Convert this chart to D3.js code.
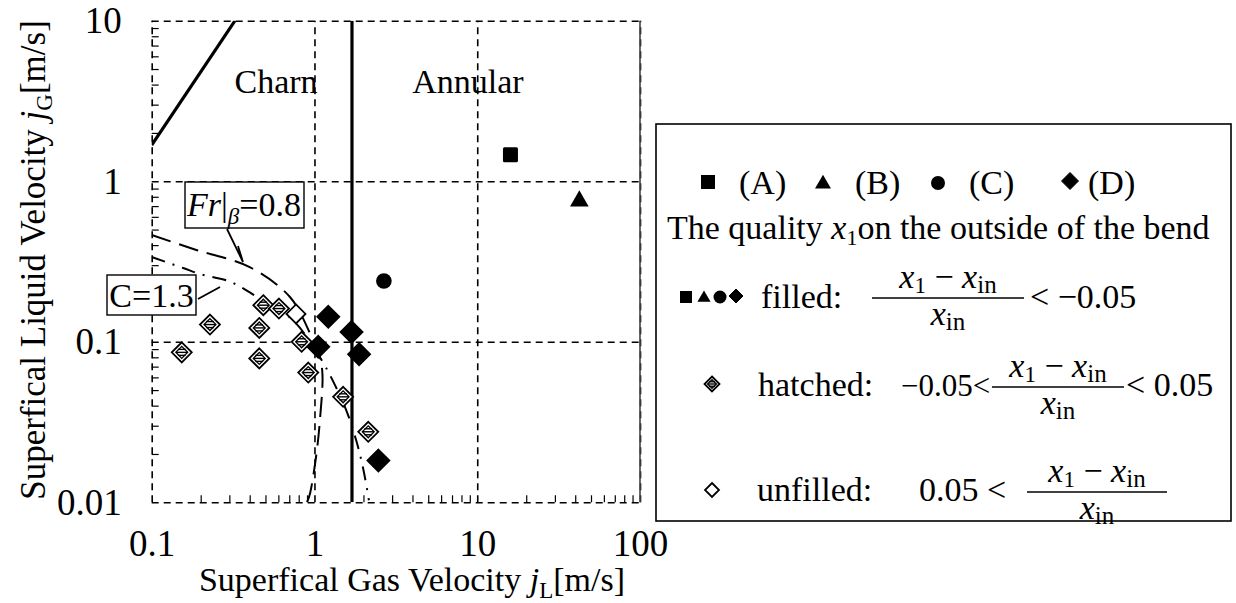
<!DOCTYPE html>
<html><head><meta charset="utf-8">
<script src="https://cdn.jsdelivr.net/npm/d3@7"></script>
<style>
body{margin:0;background:#fff}
svg{display:block}
text{font-family:"Liberation Serif","Times New Roman",serif;fill:#000}
</style>
</head><body>
<svg id="c" width="1236" height="603"></svg>
<script>
// ---------- data ----------
const xTickValues = [0.1, 1, 10, 100];
const xTickLabels = ["0.1", "1", "10", "100"];
const yTickValues = [0.01, 0.1, 1, 10];
const yTickLabels = ["0.01", "0.1", "1", "10"];

// hatched diamonds (-0.05 < dx < 0.05)
const hatchedX = [0.153, 0.228, 0.458, 0.458, 0.485, 0.605, 0.834, 0.916, 1.50, 2.14];
const hatchedY = [0.0859, 0.128, 0.122, 0.0788, 0.169, 0.161, 0.100, 0.0643, 0.0454, 0.0275];
// unfilled diamonds (0.05 < dx)
const unfilledX = [0.770];
const unfilledY = [0.149];
// filled diamonds (D)
const filledDX = [1.216, 1.69, 1.055, 1.88, 2.47];
const filledDY = [0.143, 0.115, 0.093, 0.0837, 0.0182];
// (A) square, (B) triangle, (C) circle
const seriesAX = [16.0], seriesAY = [1.46];
const seriesBX = [42.4], seriesBY = [0.753];
const seriesCX = [2.67], seriesCY = [0.239];

// transition curves
const frX = [0.1, 0.19, 0.40, 0.707, 0.938, 1.08, 1.12, 1.08, 1.03, 0.94, 0.90];
const frY = [0.462, 0.372, 0.292, 0.190, 0.113, 0.080, 0.062, 0.0325, 0.0203, 0.0114, 0.0100];
const cX = [0.1, 0.156, 0.198, 0.303, 0.444, 0.738, 1.08, 1.337, 1.59, 1.815, 2.0, 2.16];
const cY = [0.337, 0.288, 0.264, 0.237, 0.190, 0.136, 0.080, 0.0537, 0.0361, 0.0238, 0.0159, 0.0103];
const churnX = [0.1, 0.325], churnY = [1.68, 10];
const annularX = [1.7, 1.7], annularY = [0.01, 10];

// ---------- drawing ----------
const svg = d3.select("#c");
svg.append("rect").attr("width", 1236).attr("height", 603).attr("fill", "#fff");
const L = 151.7, R = 640, T = 20.7, B = 502.3;
const x = d3.scaleLog().domain([0.1, 100]).range([L, R]);
const y = d3.scaleLog().domain([0.01, 10]).range([B, T]);
const FONT = 34, TICKFONT = 37;

svg.append("clipPath").attr("id", "clip").append("rect")
  .attr("x", L).attr("y", T).attr("width", R - L).attr("height", B - T);

// minor ticks
const minorX = [], minorY = [];
[0.1, 1, 10].forEach(d => { for (let k = 2; k <= 9; k++) minorX.push(d * k); });
[0.01, 0.1, 1].forEach(d => { for (let k = 2; k <= 9; k++) minorY.push(d * k); });

const gMinX = svg.append("g").attr("transform", `translate(0,${B})`)
  .call(d3.axisBottom(x).tickValues(minorX).tickSize(-7).tickFormat(""));
const gMinY = svg.append("g").attr("transform", `translate(${L},0)`)
  .call(d3.axisLeft(y).tickValues(minorY).tickSize(-7).tickFormat(""));
[gMinX, gMinY].forEach(g => { g.select(".domain").remove(); g.selectAll("line").attr("stroke", "#000").attr("stroke-width", 1.2); });

// dashed grid incl. frame
const gGX = svg.append("g").attr("transform", `translate(0,${B})`)
  .call(d3.axisBottom(x).tickValues(xTickValues).tickSize(-(B - T)).tickFormat(""));
const gGY = svg.append("g").attr("transform", `translate(${L},0)`)
  .call(d3.axisLeft(y).tickValues(yTickValues).tickSize(-(R - L)).tickFormat(""));
[gGX, gGY].forEach(g => { g.select(".domain").remove(); g.selectAll("line").attr("stroke", "#000").attr("stroke-width", 1.6).attr("stroke-dasharray", "7,5"); });
svg.append("line").attr("x1", R).attr("x2", R).attr("y1", T).attr("y2", B).attr("stroke", "#444").attr("stroke-width", 1.6);

// tick labels
const gLX = svg.append("g").attr("transform", `translate(0,${B})`)
  .call(d3.axisBottom(x).tickValues(xTickValues).tickSize(0).tickPadding(27).tickFormat((d, i) => xTickLabels[i]));
const gLY = svg.append("g").attr("transform", `translate(${L},0)`)
  .call(d3.axisLeft(y).tickValues(yTickValues).tickSize(0).tickPadding(30).tickFormat((d, i) => yTickLabels[i]));
[gLX, gLY].forEach(g => { g.select(".domain").remove(); g.selectAll("text").attr("font-size", TICKFONT).attr("font-family", "Liberation Serif").attr("fill", "#000"); });

// axis titles
const xt = svg.append("text").attr("x", 412).attr("y", 591).attr("text-anchor", "middle").attr("font-size", FONT);
xt.append("tspan").text("Superfical Gas Velocity ");
xt.append("tspan").attr("font-style", "italic").text("j");
xt.append("tspan").attr("font-size", 23).attr("dy", 7).text("L");
xt.append("tspan").attr("dy", -7).text("[m/s]");

const yt = svg.append("text").attr("transform", "translate(45,260) rotate(-90)").attr("text-anchor", "middle").attr("font-size", FONT + 1);
yt.append("tspan").text("Superfical Liquid Velocity ");
yt.append("tspan").attr("font-style", "italic").text("j");
yt.append("tspan").attr("font-size", 23).attr("dy", 7).text("G");
yt.append("tspan").attr("dy", -7).text("[m/s]");

// plot content
const plot = svg.append("g").attr("clip-path", "url(#clip)");
const line = d3.line().x(d => x(d[0])).y(d => y(d[1]));
const zip = (a, b) => a.map((v, i) => [v, b[i]]);

plot.append("path").attr("d", line(zip(churnX, churnY))).attr("fill", "none").attr("stroke", "#000").attr("stroke-width", 3.2);
plot.append("path").attr("d", line(zip(annularX, annularY))).attr("fill", "none").attr("stroke", "#000").attr("stroke-width", 3.2);
const curve = d3.line().x(d => x(d[0])).y(d => y(d[1])).curve(d3.curveCatmullRom.alpha(0.5));
plot.append("path").attr("d", curve(zip(frX, frY))).attr("fill", "none").attr("stroke", "#000").attr("stroke-width", 2).attr("stroke-dasharray", "20,9");
plot.append("path").attr("d", curve(zip(cX, cY))).attr("fill", "none").attr("stroke", "#000").attr("stroke-width", 2).attr("stroke-dasharray", "14,8,2,8");

// marker helpers
function diamond(g, cx, cy, r, fill, sw) {
  return g.append("path").attr("d", `M${cx},${cy - r}L${cx + r},${cy}L${cx},${cy + r}L${cx - r},${cy}Z`)
    .attr("fill", fill).attr("stroke", "#000").attr("stroke-width", sw || 1.8);
}
function hatched(g, cx, cy, r) {
  diamond(g, cx, cy, r, "#fff");
  const s = r * 0.42;
  g.append("rect").attr("x", cx - s).attr("y", cy - s).attr("width", 2 * s).attr("height", 2 * s)
    .attr("fill", "none").attr("stroke", "#000").attr("stroke-width", 1.3)
    .attr("transform", `rotate(45,${cx},${cy})`);
  [-0.3, 0, 0.3].forEach(f => {
    const dy = f * r, hw = (r - Math.abs(dy)) * 0.55;
    g.append("line").attr("x1", cx - hw).attr("x2", cx + hw).attr("y1", cy + dy).attr("y2", cy + dy)
      .attr("stroke", "#000").attr("stroke-width", 1.4);
  });
}
const mk = svg.append("g");
zip(hatchedX, hatchedY).forEach(d => hatched(mk, x(d[0]), y(d[1]), 10));
zip(unfilledX, unfilledY).forEach(d => diamond(mk, x(d[0]), y(d[1]), 9.5, "#fff"));
zip(filledDX, filledDY).forEach(d => diamond(mk, x(d[0]), y(d[1]), 11, "#000"));
zip(seriesAX, seriesAY).forEach(d => mk.append("rect").attr("x", x(d[0]) - 7.5).attr("y", y(d[1]) - 7.5).attr("width", 15).attr("height", 15).attr("rx", 1.5).attr("fill", "#000"));
zip(seriesBX, seriesBY).forEach(d => mk.append("path").attr("d", d3.symbol(d3.symbolTriangle, 150)()).attr("transform", `translate(${x(d[0])},${y(d[1])})`).attr("fill", "#000"));
zip(seriesCX, seriesCY).forEach(d => mk.append("circle").attr("cx", x(d[0])).attr("cy", y(d[1])).attr("r", 7.8).attr("fill", "#000"));

// region labels
svg.append("text").attr("x", 276).attr("y", 93).attr("text-anchor", "middle").attr("font-size", FONT).text("Charn");
svg.append("text").attr("x", 468).attr("y", 93).attr("text-anchor", "middle").attr("font-size", FONT).text("Annular");

// Fr box
svg.append("rect").attr("x", 185).attr("y", 182).attr("width", 119).attr("height", 46).attr("fill", "#fff").attr("stroke", "#000").attr("stroke-width", 1.4);
const fr = svg.append("text").attr("x", 244).attr("y", 216).attr("text-anchor", "middle").attr("font-size", FONT);
fr.append("tspan").attr("font-style", "italic").text("Fr");
fr.append("tspan").text("|");
fr.append("tspan").attr("font-style", "italic").attr("font-size", 23).attr("dy", 8).text("β");
fr.append("tspan").attr("dy", -8).text("=0.8");
svg.append("path").attr("d", "M227,229L243,262L238,246").attr("fill", "none").attr("stroke", "#000").attr("stroke-width", 1.8);

// C box
svg.append("rect").attr("x", 107).attr("y", 275).attr("width", 89).attr("height", 40).attr("fill", "#fff").attr("stroke", "#000").attr("stroke-width", 1.4);
svg.append("text").attr("x", 151.5).attr("y", 307).attr("text-anchor", "middle").attr("font-size", FONT).text("C=1.3");
svg.append("line").attr("x1", 198).attr("y1", 299).attr("x2", 220).attr("y2", 287).attr("stroke", "#000").attr("stroke-width", 1.8);

// ---------- legend ----------
const lg = svg.append("g");
lg.append("rect").attr("x", 656).attr("y", 124).attr("width", 575).attr("height", 397).attr("fill", "#fff").attr("stroke", "#000").attr("stroke-width", 1.6);
function lt(xp, yp, s, anchor) { return lg.append("text").attr("x", xp).attr("y", yp).attr("font-size", FONT).attr("text-anchor", anchor || "start").text(s); }
// row 1
lg.append("rect").attr("x", 701).attr("y", 175).attr("width", 14).attr("height", 14).attr("fill", "#000");
lt(739, 194, "(A)");
lg.append("path").attr("d", d3.symbol(d3.symbolTriangle, 110)()).attr("transform", "translate(823,184)").attr("fill", "#000");
lt(855, 194, "(B)");
lg.append("circle").attr("cx", 938).attr("cy", 183).attr("r", 7).attr("fill", "#000");
lt(969, 194, "(C)");
diamond(lg, 1070, 181, 8.5, "#000", 1);
lt(1088, 194, "(D)");
// row 2
const r2 = lg.append("text").attr("x", 667).attr("y", 239).attr("font-size", FONT);
r2.append("tspan").text("The quality ");
r2.append("tspan").attr("font-style", "italic").text("x");
r2.append("tspan").attr("font-size", 22).attr("dy", 6).text("1");
r2.append("tspan").attr("dy", -6).text("on the outside of the bend");

function frac(cx, ly, hw) {
  const n = lg.append("text").attr("x", cx).attr("y", ly - 10).attr("text-anchor", "middle").attr("font-size", FONT);
  n.append("tspan").attr("font-style", "italic").text("x");
  n.append("tspan").attr("font-size", 23).attr("dy", 5).text("1");
  n.append("tspan").attr("dy", -5).text(" − ");
  n.append("tspan").attr("font-style", "italic").text("x");
  n.append("tspan").attr("font-size", 25).attr("dy", 5).text("in");
  lg.append("line").attr("x1", cx - hw).attr("x2", cx + hw).attr("y1", ly).attr("y2", ly).attr("stroke", "#000").attr("stroke-width", 1.5);
  const d = lg.append("text").attr("x", cx).attr("y", ly + 27).attr("text-anchor", "middle").attr("font-size", FONT);
  d.append("tspan").attr("font-style", "italic").text("x");
  d.append("tspan").attr("font-size", 25).attr("dy", 5).text("in");
}
// row 3
lg.append("rect").attr("x", 680).attr("y", 291).attr("width", 12).attr("height", 12).attr("fill", "#000");
lg.append("path").attr("d", d3.symbol(d3.symbolTriangle, 75)()).attr("transform", "translate(704,298)").attr("fill", "#000");
lg.append("circle").attr("cx", 720).attr("cy", 297).attr("r", 6.5).attr("fill", "#000");
diamond(lg, 736, 296, 7, "#000", 1);
lt(761, 308, "filled:");
frac(948, 298, 76);
lt(1030, 308, "< −0.05");
// row 4
hatched(lg, 712, 384, 7.5);
lt(758, 396, "hatched:");
lt(901, 396, "−0.05<").attr("font-size", 31);
frac(1058, 387, 66);
lt(1126, 396, "< 0.05");
// row 5
diamond(lg, 712, 490, 7, "#fff");
lt(757, 501, "unfilled:");
lt(919, 501, "0.05 <");
frac(1097, 492, 70);
</script>
</body></html>
